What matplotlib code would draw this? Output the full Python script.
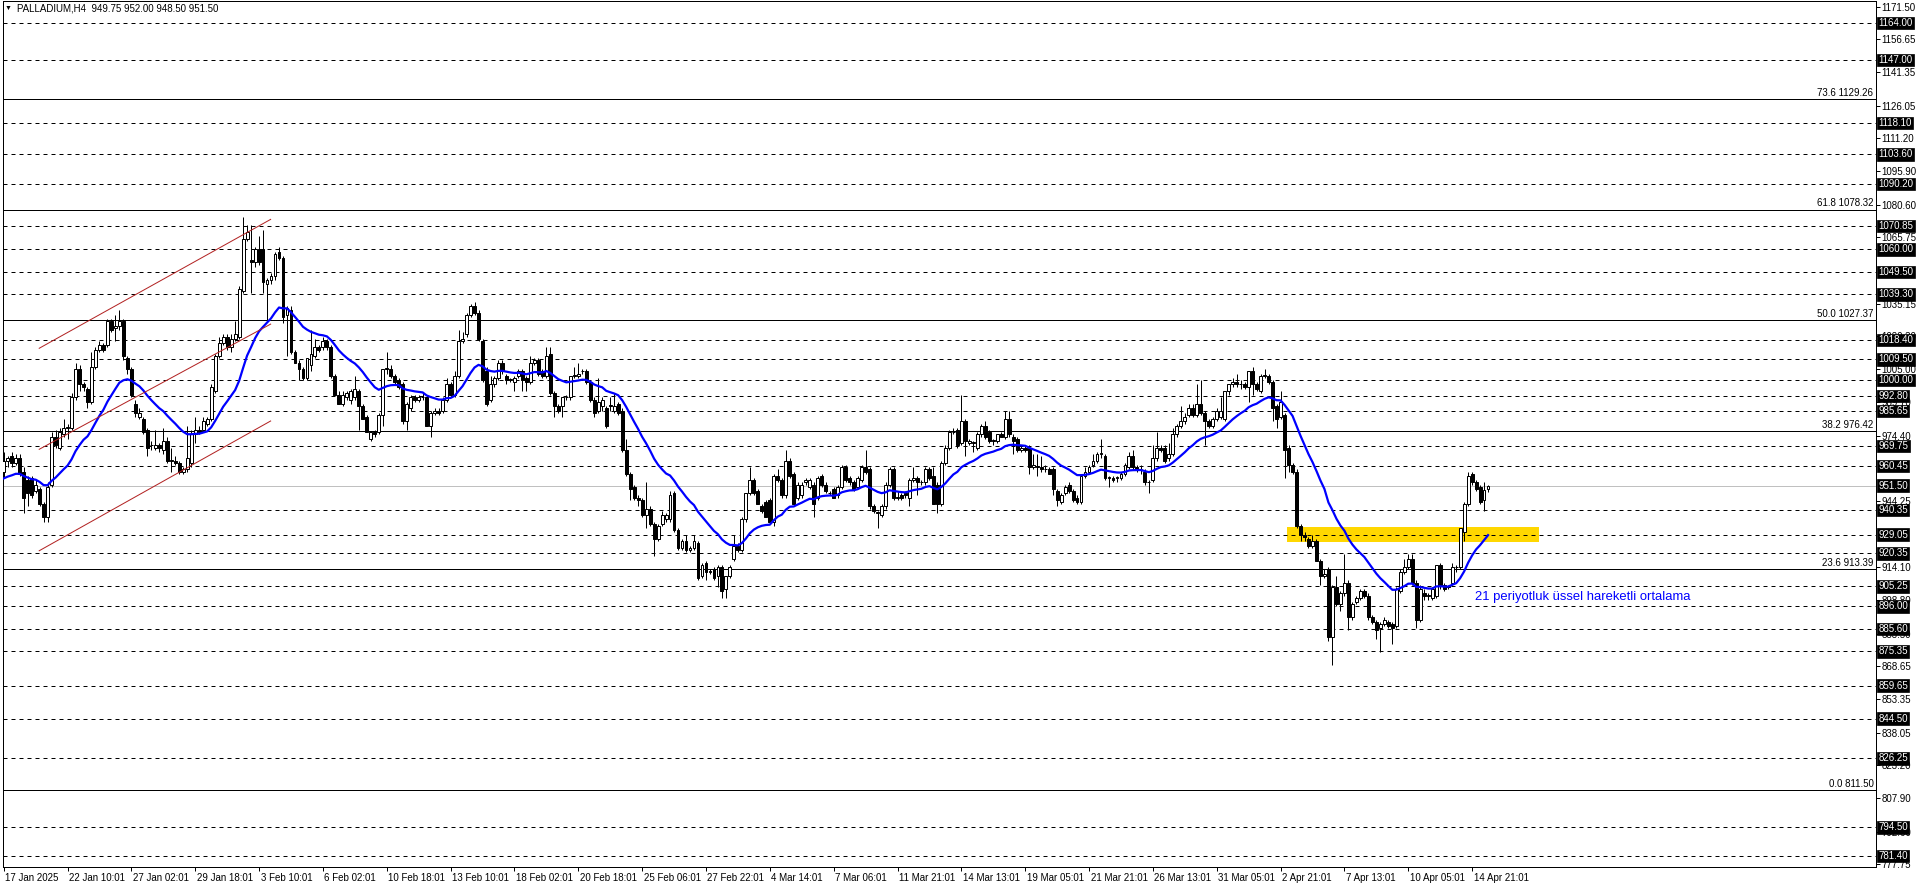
import matplotlib
matplotlib.use('Agg')
import matplotlib.pyplot as plt
import matplotlib.transforms as mtransforms
from matplotlib.patches import Rectangle
import numpy as np

plt.rcParams['font.family'] = ['Liberation Sans', 'DejaVu Sans']

# H4 candles (bar 0 = 17 Jan 2025)
opens = [958, 963, 965, 962, 964, 958, 954, 955, 949, 950,
         943, 937, 952, 974, 969, 975, 978, 978, 992, 1005,
         998, 996, 990, 1006, 1014, 1016, 1016, 1027, 1024, 1025,
         1027, 1010, 1005, 989, 983, 982, 977, 970, 969, 970,
         968, 972, 963, 963, 962, 958, 959, 962, 975, 977,
         977, 980, 982, 995, 1011, 1017, 1020, 1015, 1019, 1020,
         1041, 1065, 1055, 1054, 1060, 1060, 1044, 1046, 1048, 1059,
         1056, 1030, 1032, 1013, 1008, 1005, 1001, 1007, 1011, 1015,
         1015, 1018, 1015, 1002, 993, 989, 992, 991, 992, 995,
         988, 983, 973, 976, 976, 984, 1005, 1005, 1002, 1000,
         998, 981, 987, 992, 991, 992, 992, 979, 985, 986,
         986, 991, 998, 993, 1002, 1018, 1021, 1030, 1034, 1031,
         1018, 1004, 991, 998, 1001, 1008, 1002, 1000, 999, 1002,
         1004, 1001, 999, 1008, 1009, 1004, 1002, 1012, 994, 988,
         988, 992, 992, 1002, 1002, 1004, 1004, 999, 991, 986,
         988, 987, 988, 986, 989, 986, 968, 957, 951, 946,
         945, 938, 941, 934, 927, 934, 936, 936, 948, 931,
         923, 926, 922, 923, 925, 910, 916, 912, 913, 910,
         914, 904, 910, 918, 924, 922, 936, 948, 954, 949,
         942, 944, 945, 935, 956, 954, 947, 963, 957, 946,
         947, 953, 951, 952, 946, 956, 952, 948, 950, 947,
         951, 960, 955, 953, 951, 954, 960, 959, 942, 939,
         938, 942, 952, 959, 946, 947, 948, 946, 954, 955,
         953, 953, 959, 956, 952, 943, 962, 969, 976, 977,
         971, 981, 971, 971, 969, 975, 979, 976, 972, 972,
         975, 974, 982, 974, 973, 968, 969, 969, 960, 960,
         960, 959, 959, 959, 949, 944, 948, 952, 949, 946,
         944, 956, 958, 961, 963, 966, 965, 955, 955, 955,
         955, 957, 960, 965, 960, 959, 958, 953, 954, 964,
         969, 969, 964, 966, 975, 979, 981, 984, 987, 984,
         989, 985, 981, 979, 982, 983, 982, 995, 998, 999,
         998, 998, 997, 1004, 998, 995, 1002, 1002, 999, 988,
         983, 984, 969, 961, 958, 933, 929, 927, 924, 926,
         917, 910, 913, 882, 905, 897, 902, 907, 891, 898,
         900, 903, 901, 891, 889, 886, 888, 889, 888, 887,
         903, 912, 914, 918, 907, 890, 902, 901, 900, 901,
         915, 906, 905, 907, 914, 914, 930, 943, 957, 953,
         951, 945, 949.75]
highs = [967, 965, 967, 966, 966, 960, 956, 956, 954, 951,
         944, 953, 976, 977, 978, 982, 980, 994, 1008, 1007,
         999, 997, 1013, 1015, 1018, 1017, 1028, 1028, 1030, 1032,
         1028, 1011, 1006, 991, 987, 983, 978, 972, 977, 971,
         978, 974, 969, 965, 963, 960, 979, 977, 983, 979,
         983, 983, 998, 1012, 1020, 1021, 1021, 1021, 1027, 1043,
         1075, 1071, 1071, 1061, 1066, 1069, 1047, 1049, 1059, 1061,
         1057, 1034, 1034, 1014, 1009, 1006, 1010, 1023, 1019, 1016,
         1020, 1019, 1016, 1003, 995, 995, 995, 996, 1002, 996,
         989, 984, 976, 977, 985, 1005, 1013, 1007, 1003, 1001,
         999, 990, 993, 993, 993, 994, 993, 986, 987, 987,
         992, 1001, 999, 1004, 1023, 1022, 1031, 1035, 1036, 1032,
         1019, 1006, 1002, 1002, 1009, 1009, 1003, 1001, 1002, 1005,
         1005, 1002, 1011, 1010, 1010, 1005, 1015, 1015, 995, 989,
         992, 993, 1002, 1006, 1008, 1005, 1005, 1000, 992, 1001,
         992, 988, 992, 994, 990, 987, 973, 958, 952, 947,
         946, 953, 942, 935, 934, 940, 939, 949, 949, 932,
         927, 929, 924, 929, 926, 916, 917, 913, 914, 915,
         915, 910, 915, 929, 925, 937, 948, 960, 955, 950,
         943, 945, 946, 957, 959, 955, 968, 964, 958, 953,
         953, 955, 955, 953, 956, 957, 953, 949, 951, 952,
         961, 961, 956, 954, 956, 961, 968, 960, 943, 940,
         943, 953, 960, 960, 949, 948, 949, 955, 960, 956,
         954, 960, 960, 960, 953, 963, 970, 977, 978, 978,
         993, 982, 973, 972, 976, 980, 981, 977, 973, 975,
         976, 986, 986, 975, 974, 970, 970, 970, 966, 966,
         965, 961, 960, 960, 950, 948, 952, 953, 950, 947,
         957, 960, 961, 966, 967, 973, 966, 956, 956, 956,
         958, 962, 967, 968, 961, 961, 959, 954, 970, 976,
         970, 970, 971, 978, 980, 988, 985, 989, 989, 998,
         1000, 986, 982, 983, 987, 992, 995, 998, 1001, 1003,
         1000, 999, 1004, 1006, 999, 1003, 1005, 1003, 1000, 989,
         995, 985, 970, 962, 959, 934, 930, 928, 929, 927,
         918, 913, 914, 906, 910, 903, 920, 908, 898, 901,
         904, 904, 902, 892, 890, 889, 891, 890, 889, 905,
         913, 918, 920, 920, 908, 906, 904, 902, 905, 915,
         916, 907, 906, 916, 915, 932, 944, 958, 958, 954,
         952, 953, 952]
lows = [955, 960, 960, 961, 956, 939, 942, 946, 948, 942,
        935, 935, 951, 969, 968, 974, 973, 977, 991, 995,
        995, 987, 989, 1005, 1013, 1013, 1015, 1022, 1018, 1023,
        1009, 1003, 992, 983, 982, 975, 965, 968, 968, 967,
        966, 962, 958, 961, 957, 957, 958, 960, 971, 975,
        976, 979, 981, 994, 1010, 1016, 1014, 1013, 1018, 1019,
        1040, 1064, 1040, 1052, 1053, 1040, 1027, 1044, 1046, 1055,
        1026, 1011, 1012, 1008, 1000, 1000, 1000, 1004, 1010, 1013,
        1014, 1014, 1001, 993, 989, 988, 991, 989, 991, 977,
        982, 976, 972, 974, 975, 979, 1003, 1001, 998, 996,
        980, 977, 986, 990, 990, 991, 979, 974, 984, 984,
        985, 990, 992, 992, 1001, 1017, 1020, 1029, 1030, 1018,
        999, 988, 990, 997, 1000, 1003, 998, 999, 995, 1001,
        995, 995, 998, 1007, 1002, 1001, 1001, 993, 983, 985,
        983, 991, 991, 1001, 1001, 1003, 998, 990, 983, 985,
        986, 978, 986, 985, 984, 967, 956, 945, 945, 942,
        937, 932, 933, 919, 926, 933, 935, 935, 930, 922,
        922, 921, 921, 922, 908, 909, 908, 911, 908, 905,
        900, 900, 909, 917, 921, 921, 935, 947, 947, 943,
        939, 937, 934, 933, 953, 946, 946, 955, 942, 945,
        946, 952, 950, 937, 945, 951, 948, 947, 946, 946,
        950, 953, 952, 949, 950, 953, 957, 941, 939, 932,
        937, 941, 951, 945, 945, 945, 946, 942, 953, 947,
        952, 952, 954, 943, 939, 942, 961, 968, 975, 969,
        970, 965, 970, 967, 968, 974, 973, 971, 970, 971,
        974, 973, 974, 966, 967, 967, 967, 957, 959, 956,
        958, 958, 957, 947, 942, 943, 947, 948, 944, 943,
        943, 955, 957, 960, 962, 964, 954, 951, 953, 953,
        954, 956, 959, 959, 958, 957, 952, 948, 953, 963,
        967, 962, 963, 965, 974, 978, 980, 983, 983, 983,
        984, 970, 978, 978, 981, 982, 981, 993, 997, 997,
        996, 996, 990, 993, 995, 994, 1001, 998, 981, 978,
        982, 955, 958, 957, 932, 926, 926, 923, 923, 917,
        906, 909, 880, 869, 896, 894, 901, 885, 890, 897,
        899, 900, 890, 888, 881, 875, 887, 886, 879, 886,
        902, 911, 913, 906, 886, 889, 899, 899, 899, 900,
        904, 903, 904, 906, 912, 913, 926, 942, 952, 949,
        943, 940, 948.5]
closes = [963, 964, 962, 964, 957, 946, 948, 947, 952, 943,
          937, 951, 974, 970, 976, 978, 978, 992, 1005, 998,
          997, 990, 1006, 1014, 1016, 1014, 1027, 1023, 1025, 1027,
          1011, 1005, 993, 985, 985, 976, 969, 970, 970, 969,
          972, 963, 963, 962, 958, 959, 964, 975, 977, 976,
          981, 982, 997, 1011, 1017, 1020, 1015, 1019, 1021, 1042,
          1065, 1068, 1054, 1060, 1054, 1045, 1046, 1048, 1058, 1056,
          1029, 1033, 1013, 1008, 1005, 1001, 1010, 1012, 1015, 1014,
          1018, 1015, 1002, 993, 989, 993, 994, 995, 996, 988,
          982, 976, 976, 975, 984, 1005, 1005, 1002, 999, 997,
          981, 989, 992, 991, 992, 992, 979, 985, 986, 985,
          991, 998, 993, 1002, 1018, 1019, 1030, 1034, 1031, 1019,
          1000, 989, 998, 1001, 1008, 1004, 1000, 1000, 1001, 1004,
          1000, 999, 1008, 1009, 1003, 1002, 1011, 994, 988, 986,
          992, 992, 1002, 1002, 1003, 1004, 999, 991, 985, 990,
          991, 979, 988, 988, 985, 968, 957, 950, 946, 945,
          938, 941, 934, 927, 933, 938, 938, 947, 931, 923,
          926, 922, 923, 926, 909, 915, 912, 912, 909, 914,
          903, 910, 914, 924, 922, 936, 948, 954, 948, 943,
          940, 937, 935, 956, 954, 947, 963, 956, 943, 952,
          952, 954, 954, 943, 955, 952, 949, 948, 946, 951,
          960, 954, 953, 950, 955, 960, 958, 942, 940, 939,
          942, 952, 959, 946, 946, 946, 947, 954, 955, 953,
          953, 959, 955, 943, 943, 962, 969, 976, 976, 970,
          981, 972, 972, 971, 975, 979, 974, 972, 972, 975,
          974, 982, 975, 972, 968, 969, 968, 960, 961, 960,
          959, 959, 957, 950, 945, 947, 951, 949, 945, 944,
          956, 958, 960, 963, 966, 966, 955, 955, 954, 955,
          957, 961, 965, 960, 959, 959, 953, 953, 964, 969,
          968, 963, 966, 975, 979, 981, 983, 987, 984, 989,
          985, 981, 979, 982, 986, 986, 995, 998, 999, 998,
          998, 997, 1004, 998, 996, 1002, 1002, 999, 987, 982,
          990, 968, 961, 958, 933, 929, 928, 924, 926, 917,
          910, 911, 882, 905, 897, 902, 907, 891, 897, 900,
          903, 901, 891, 889, 885, 888, 890, 887, 886, 904,
          912, 914, 918, 907, 890, 904, 901, 901, 904, 915,
          906, 904, 905, 914, 914, 932, 943, 956, 953, 950,
          944, 949.5, 951.5]

ema_period = 21
ema_seed = 954.0

# horizontal support / resistance lines (dashed, boxed price labels)
level_lines = [1164.00, 1147.00, 1118.10, 1103.60, 1090.20, 1070.85, 1060.00,
               1049.50, 1039.30, 1018.40, 1009.50, 1000.00, 992.80, 985.65,
               969.75, 960.45, 940.35, 929.05, 920.35, 905.25, 896.00, 885.60,
               875.35, 859.65, 844.50, 826.25, 794.50, 781.40]
current_price = 951.50

# fibonacci retracement
fib_ratios = [0.0, 23.6, 38.2, 50.0, 61.8, 73.6]
fib_prices = [811.50, 913.39, 976.42, 1027.37, 1078.32, 1129.26]

# price scale labels (those fully covered by line labels are left out)
axis_ticks = [1171.50, 1156.65, 1141.35, 1126.05, 1111.20, 1095.90, 1080.60,
              1065.75, 1035.15, 1020.30, 1005.00, 989.70, 974.40,
              944.25, 914.10, 898.80, 883.50, 868.65, 853.35,
              838.05, 823.20, 807.90, 792.60, 777.75]

date_labels = ['17 Jan 2025', '22 Jan 10:01', '27 Jan 02:01', '29 Jan 18:01',
               '3 Feb 10:01', '6 Feb 02:01', '10 Feb 18:01', '13 Feb 10:01',
               '18 Feb 02:01', '20 Feb 18:01', '25 Feb 06:01', '27 Feb 22:01',
               '4 Mar 14:01', '7 Mar 06:01', '11 Mar 21:01', '14 Mar 13:01',
               '19 Mar 05:01', '21 Mar 21:01', '26 Mar 13:01', '31 Mar 05:01',
               '2 Apr 21:01', '7 Apr 13:01', '10 Apr 05:01', '14 Apr 21:01']
date_step = 16

# rising channel (bar, price)
channel_bars = [8.9, 66.9]
channel_upper = [1014.6, 1073.8]
channel_middle = [968.2, 1025.7]
channel_lower = [921.6, 981.2]

# yellow zone
zone_bars = [321.7, 384.7]
zone_prices = [925.7, 932.4]

note_text = '21 periyotluk üssel hareketli ortalama'
note_bar = 368.7
note_price = 900.5

title_text = 'PALLADIUM,H4  949.75 952.00 948.50 951.50'

# ---------------------------------------------------------------
W, H = 1916, 888
fig = plt.figure(figsize=(W / 100, H / 100), dpi=100)
ax = fig.add_axes([2.5 / W, (H - 867) / H, 1873 / W, 866 / H])

n = len(closes)
x = np.arange(n)
o = np.array(opens, float)
h = np.array(highs, float)
l = np.array(lows, float)
c = np.array(closes, float)

# exponential moving average
alpha = 2.0 / (ema_period + 1)
ema = []
prev = ema_seed
for v in c:
    prev = prev + alpha * (v - prev)
    ema.append(prev)

px = 0.72  # one pixel in points

ax.add_patch(Rectangle((zone_bars[0], zone_prices[0]), zone_bars[1] - zone_bars[0],
                       zone_prices[1] - zone_prices[0], fc='#FFD700', ec='none', zorder=0.5))

for p in level_lines:
    ax.axhline(p, color='black', lw=px, ls=(0, (4, 4)), zorder=1)
for p in fib_prices:
    ax.axhline(p, color='black', lw=px, zorder=1)
ax.axhline(current_price, color='#C0C0C0', lw=px, zorder=1)

# candles
ax.vlines(x, l, h, color='black', lw=px, zorder=3)
up = c >= o
body_low = np.minimum(o, c)
body_h = np.maximum(np.abs(c - o), 0.35)
ax.bar(x[up], body_h[up], bottom=body_low[up], width=0.72, color='white',
       edgecolor='black', linewidth=px, zorder=3.5)
ax.bar(x[~up], body_h[~up], bottom=body_low[~up], width=0.72, color='black',
       edgecolor='black', linewidth=px, zorder=3.5)

ax.plot(x, ema, color='#0000FF', lw=1.6, zorder=4)

for line in (channel_upper, channel_middle, channel_lower):
    ax.plot(channel_bars, line, color='#B22222', lw=px, zorder=4)

ax.text(note_bar, note_price, note_text, color='#0000FF', fontsize=9.4,
        ha='left', va='center', zorder=5)

ax.set_xlim(-0.3, 469.1)
ax.set_ylim(776.35, 1174.1)

# right price axis
ax.yaxis.tick_right()
ax.set_yticks(axis_ticks)
ax.set_yticklabels([f'{v:.2f}' for v in axis_ticks])
ax.tick_params(axis='y', direction='out', length=3, width=px, pad=1.5,
               labelsize=7, colors='black')

# bottom time axis
ticks_x = np.arange(len(date_labels)) * date_step
ax.set_xticks(ticks_x)
ax.set_xticklabels(date_labels)
ax.tick_params(axis='x', direction='out', length=3, width=px, pad=1.5, labelsize=7)
shift = mtransforms.ScaledTranslation(1.5 / 100, 0, fig.dpi_scale_trans)
for lab in ax.get_xticklabels():
    lab.set_horizontalalignment('left')
    lab.set_transform(lab.get_transform() + shift)

for s in ax.spines.values():
    s.set_linewidth(px)
    s.set_color('black')

trans = mtransforms.blended_transform_factory(ax.transAxes, ax.transData)

for r, p in zip(fib_ratios, fib_prices):
    ax.annotate(f'{r:.1f} {p:.2f}', xy=(1, p), xycoords=trans, xytext=(-1.5, 0.8),
                textcoords='offset points', ha='right', va='bottom', fontsize=7,
                annotation_clip=False, zorder=6)

for p in level_lines + [current_price]:
    ax.annotate(f'{p:.2f}', xy=(1, p), xycoords=trans, xytext=(2.2, 0),
                textcoords='offset points', ha='left', va='center', fontsize=7,
                color='white', annotation_clip=False, zorder=10,
                bbox=dict(boxstyle='square,pad=0.12', fc='black', ec='black', lw=0.5))

fig.text(5 / W, 1 - 8.5 / H, '\u25bc', fontsize=5, ha='left', va='center')
fig.text(17 / W, 1 - 8.5 / H, title_text, fontsize=7, ha='left', va='center')

fig.savefig('out.png', dpi=100)
